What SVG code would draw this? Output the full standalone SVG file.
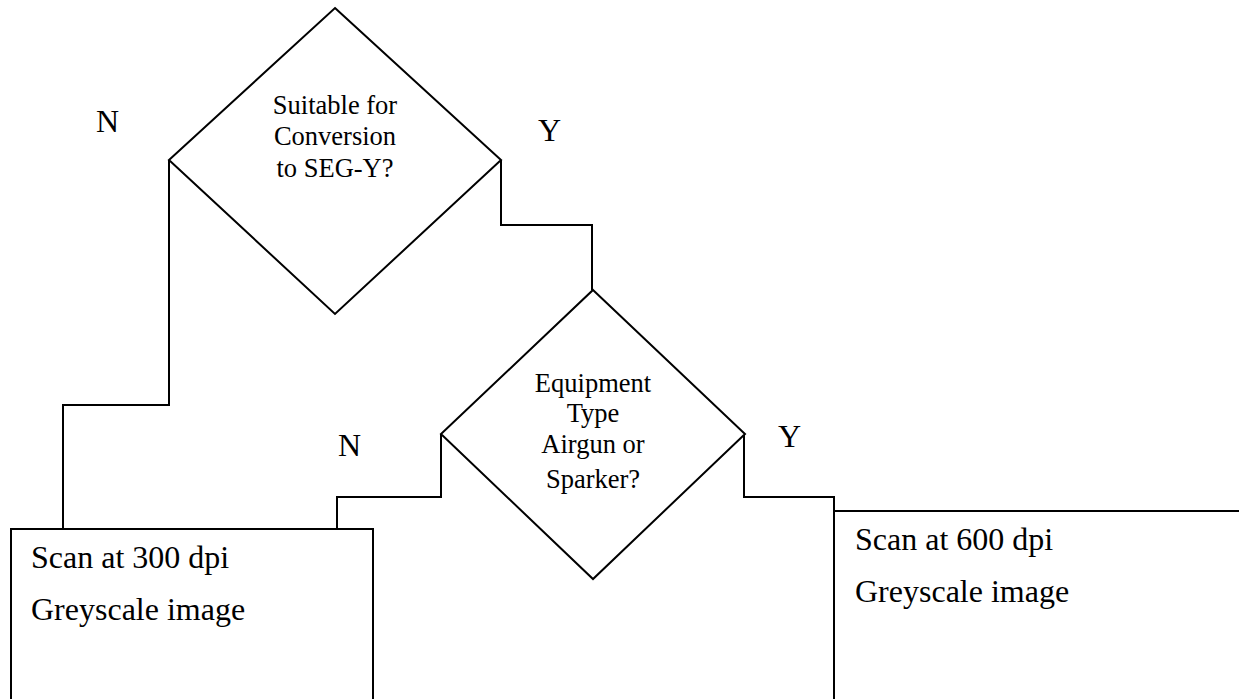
<svg xmlns="http://www.w3.org/2000/svg" width="1239" height="699" viewBox="0 0 1239 699">
<style>
.s{fill:none;stroke:#000;stroke-width:2;stroke-linejoin:miter}
.d{fill:#fff;stroke:#000;stroke-width:2}
.t{font-family:"Liberation Serif","Times New Roman",serif;fill:#000}
.q{font-size:26.5px;text-anchor:middle}
.b{font-size:32px}
</style>
<rect width="1239" height="699" fill="#fff"/>
<g id="connectors">
<polyline class="s" points="169,160 169,405 63,405 63,529"/>
<polyline class="s" points="501,160 501,225 592,225 592,290"/>
<polyline class="s" points="441,434 441,497 337,497 337,529"/>
<polyline class="s" points="744,434 744,497 834,497 834,511"/>
</g>
<g id="decision1">
<polygon class="d" points="335,8 501,160 335,314 169,160"/>
<text class="t q" x="335" y="114">Suitable for</text>
<text class="t q" x="335" y="145">Conversion</text>
<text class="t q" x="335" y="177">to SEG-Y?</text>
</g>
<g id="decision2">
<polygon class="d" points="593,290 745,434 593,579 441,434"/>
<text class="t q" x="593" y="392">Equipment</text>
<text class="t q" x="593" y="422">Type</text>
<text class="t q" x="593" y="453">Airgun or</text>
<text class="t q" x="593" y="488">Sparker?</text>
</g>
<g id="labels">
<text class="t b" x="96" y="132">N</text>
<text class="t b" x="538" y="141">Y</text>
<text class="t b" x="338" y="456">N</text>
<text class="t b" x="778" y="447">Y</text>
</g>
<g id="box300">
<rect class="s" x="11" y="529" width="362" height="190"/>
<text class="t b" x="31" y="568">Scan at 300 dpi</text>
<text class="t b" x="31" y="620">Greyscale image</text>
</g>
<g id="box600">
<rect class="s" x="834" y="511" width="420" height="210"/>
<text class="t b" x="855" y="550">Scan at 600 dpi</text>
<text class="t b" x="855" y="602">Greyscale image</text>
</g>
</svg>
